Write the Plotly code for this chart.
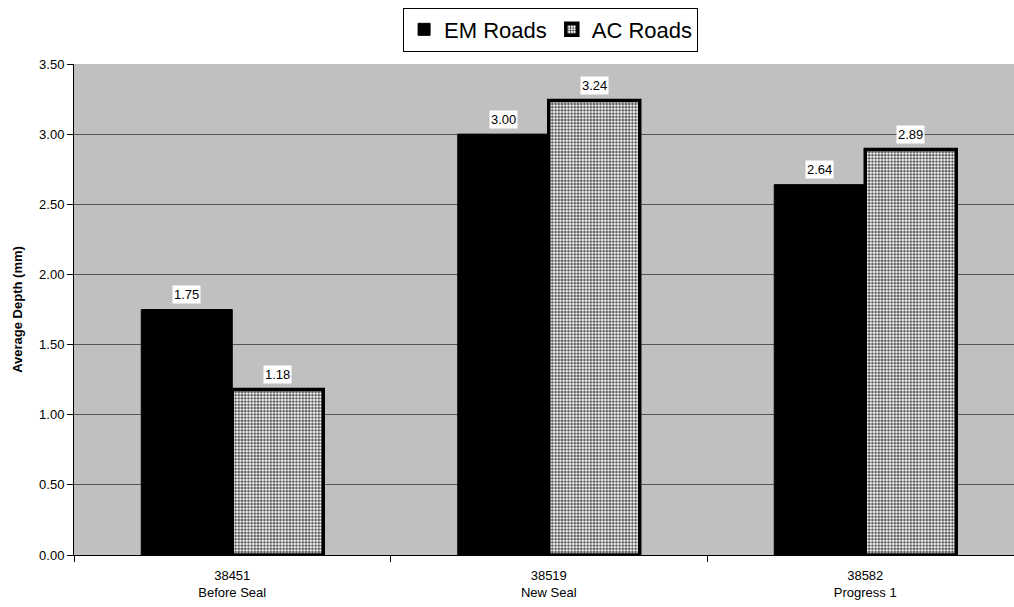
import plotly.graph_objects as go

# Data
categories = ["38451<br>Before Seal", "38519<br>New Seal", "38582<br>Progress 1"]
em_roads = [1.75, 3.00, 2.64]
ac_roads = [1.18, 3.24, 2.89]
y_ticks = [0.0, 0.5, 1.0, 1.5, 2.0, 2.5, 3.0, 3.5]

FONT = "Liberation Sans, Arial, sans-serif"
BAR_W = 0.2875

fig = go.Figure()
fig.add_trace(go.Bar(
    name="EM Roads", x=categories, y=em_roads,
    width=BAR_W, offset=-BAR_W,
    marker=dict(color="black", line=dict(color="black", width=1)),
))
fig.add_trace(go.Bar(
    name="AC Roads", x=categories, y=ac_roads,
    width=BAR_W, offset=0,
    marker=dict(
        color="white",
        line=dict(color="black", width=3.5),
        pattern=dict(shape="+", size=3.2, solidity=0.35,
                     fgcolor="black", bgcolor="white", fillmode="replace"),
    ),
))

# Value labels in white boxes above each bar
for i, cat in enumerate(categories):
    for vals, off in ((em_roads, -BAR_W / 2), (ac_roads, BAR_W / 2)):
        fig.add_annotation(
            x=i + off, y=vals[i], xref="x", yref="y",
            text=f"{vals[i]:.2f}", showarrow=False, yshift=15,
            bgcolor="white", borderpad=1,
            font=dict(family=FONT, size=13, color="black"),
        )

fig.update_layout(
    width=1014, height=607,
    margin=dict(l=74, r=0, t=64, b=52),
    paper_bgcolor="white", plot_bgcolor="#C0C0C0",
    barmode="group",
    font=dict(family=FONT, size=13, color="black"),
    showlegend=True,
    legend=dict(
        orientation="h", x=0.507, xanchor="center", y=1.115, yanchor="top",
        font=dict(family=FONT, size=22, color="black"),
        bordercolor="black", borderwidth=1, bgcolor="white",
        itemwidth=30, traceorder="normal", tracegroupgap=0,
    ),
    xaxis=dict(
        type="category", range=[-0.5, 2.47],
        tickson="boundaries", ticks="outside", ticklen=6,
        tickcolor="black", showline=True, linecolor="black", linewidth=1,
        showgrid=False, tickfont=dict(size=13), ticklabelstandoff=8,
    ),
    yaxis=dict(
        range=[0, 3.5], tickvals=y_ticks,
        ticktext=[f"{v:.2f}" for v in y_ticks],
        ticks="outside", ticklen=6, tickcolor="black",
        showline=True, linecolor="black", linewidth=1,
        showgrid=True, gridcolor="#555555", gridwidth=1,
        zeroline=False, tickfont=dict(size=13),
        title=dict(text="<b>Average Depth (mm)</b>", font=dict(size=13), standoff=13),
    ),
)

fig.write_html("out.html")
